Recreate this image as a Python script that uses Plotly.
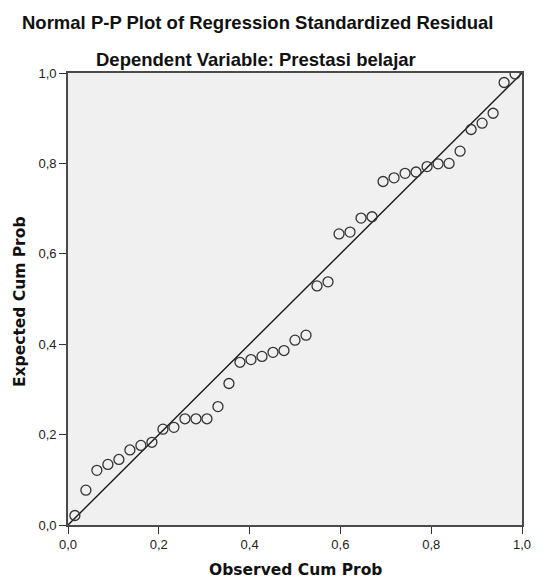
import plotly.graph_objects as go

n_points = 41
ranks = list(range(1, n_points + 1))
# Observed cumulative probability (Blom rank-based proportions)
observed_cum_prob = [(r - 0.375) / (n_points + 0.25) for r in ranks]
# Expected cumulative probability
expected_cum_prob = [
    0.021, 0.077, 0.121, 0.134, 0.145, 0.166, 0.176, 0.183, 0.212, 0.216,
    0.235, 0.235, 0.235, 0.262, 0.313, 0.360, 0.366, 0.373, 0.382, 0.386,
    0.409, 0.420, 0.529, 0.538, 0.644, 0.648, 0.679, 0.682, 0.760, 0.768,
    0.778, 0.781, 0.793, 0.799, 0.800, 0.827, 0.875, 0.889, 0.911, 0.979,
    0.998,
]
ref_line_x = [0.0, 1.0]
ref_line_y = [0.0, 1.0]
tick_vals = [0.0, 0.2, 0.4, 0.6, 0.8, 1.0]

FONT = "Liberation Sans, Arial, sans-serif"
AXFONT = "DejaVu Sans, Verdana, sans-serif"
OFF = 8  # page body margin
W, H = 549 - OFF, 580 - OFF
L = 68 - OFF
T = 73 - OFF
R = 549 - 522
B = H - (525 - OFF)
PW, PH = W - L - R, H - T - B


def px_x(sx):
    return (sx - OFF - L) / PW


def px_y(sy):
    return (T + PH - (sy - OFF)) / PH


fig = go.Figure()
fig.add_trace(go.Scatter(
    x=ref_line_x, y=ref_line_y, mode="lines",
    line=dict(color="#1a1a1a", width=1.4), hoverinfo="skip", showlegend=False,
))
fig.add_trace(go.Scatter(
    x=observed_cum_prob, y=expected_cum_prob, mode="markers",
    marker=dict(symbol="circle-open", size=10, color="#333333",
                line=dict(width=1.3, color="#333333")),
    showlegend=False,
))

axis_common = dict(
    range=[0, 1], tickvals=tick_vals, tickformat=".1f",
    showgrid=False, zeroline=False, automargin=False,
    showline=True, mirror=True, linecolor="#4a4a4a", linewidth=1.6,
    ticks="outside", ticklen=7, tickwidth=1.4, tickcolor="#333333",
    tickfont=dict(family=FONT, size=13, color="#222222"),
)

fig.update_layout(
    width=W, height=H,
    margin=dict(l=L, r=R, t=T, b=B),
    paper_bgcolor="white", plot_bgcolor="#f0f0f0",
    separators=",.",
    xaxis=dict(**axis_common),
    yaxis=dict(**axis_common),
    annotations=[
        dict(text="<b>Normal P-P Plot of Regression Standardized Residual</b>",
             xref="paper", yref="paper", x=px_x(258), y=px_y(22),
             xanchor="center", yanchor="middle", showarrow=False,
             font=dict(family=FONT, size=18.5, color="#111111")),
        dict(text="<b>Dependent Variable: Prestasi belajar</b>",
             xref="paper", yref="paper", x=px_x(256), y=px_y(59),
             xanchor="center", yanchor="middle", showarrow=False,
             font=dict(family=FONT, size=18.5, color="#111111")),
        dict(text="<b>Observed Cum Prob</b>",
             xref="paper", yref="paper", x=px_x(295), y=px_y(570),
             xanchor="center", yanchor="middle", showarrow=False,
             font=dict(family=AXFONT, size=15.5, color="#111111")),
        dict(text="<b>Expected Cum Prob</b>", textangle=-90,
             xref="paper", yref="paper", x=px_x(20), y=px_y(302),
             xanchor="center", yanchor="middle", showarrow=False,
             font=dict(family=AXFONT, size=15.5, color="#111111")),
    ],
)

fig.write_html("out.html")
